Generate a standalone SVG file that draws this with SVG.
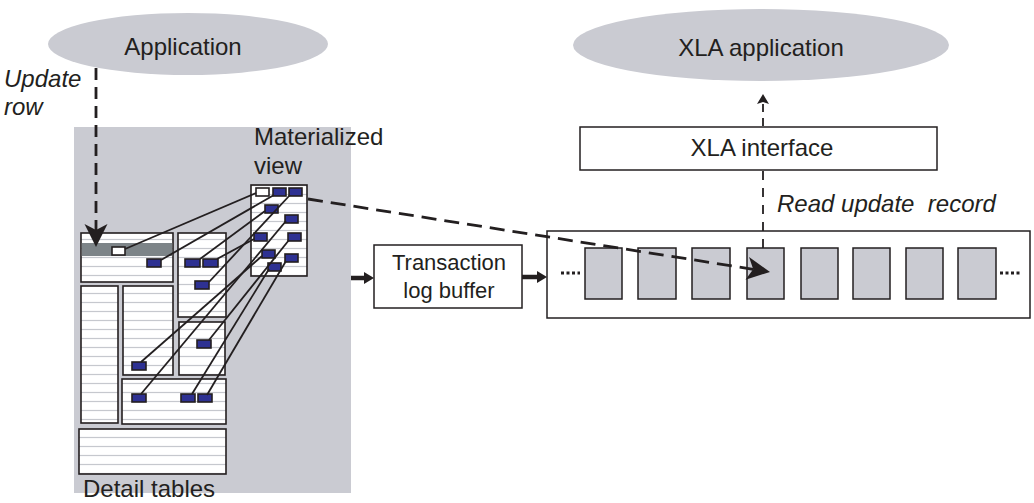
<svg xmlns="http://www.w3.org/2000/svg" width="1034" height="503" viewBox="0 0 1034 503">
<style>
text{font-family:"Liberation Sans",Arial,sans-serif;fill:#231f20}
.t24{font-size:24px}
.t22{font-size:22px}
.it{font-style:italic}
.gray{fill:#cacbd2}
.tbl{fill:url(#rows);stroke:#231f20;stroke-width:1.6}
.blue{fill:#2e3192;stroke:#231f20;stroke-width:1.6}
.wht{fill:#ffffff;stroke:#231f20;stroke-width:1.6}
.box{fill:#ffffff;stroke:#231f20;stroke-width:1.5}
.rec{fill:#cacbd2;stroke:#231f20;stroke-width:1.5}
.link{stroke:#231f20;stroke-width:1.8;fill:none}
.dash{stroke:#231f20;stroke-width:2.8;fill:none;stroke-dasharray:12 7}
.dashs{stroke:#231f20;stroke-width:1.8;fill:none;stroke-dasharray:9 8}
.thick{stroke:#231f20;stroke-width:4.5;fill:none}
.dots{stroke:#231f20;stroke-width:3;stroke-dasharray:3 2.5;fill:none}
</style>
<defs>
<pattern id="rows" patternUnits="userSpaceOnUse" x="0" y="1" width="10" height="9">
<rect width="10" height="9" fill="#ffffff"/>
<line x1="0" y1="4.5" x2="10" y2="4.5" stroke="#c6c8ce" stroke-width="1.2"/>
</pattern>
<marker id="stealth" markerUnits="userSpaceOnUse" markerWidth="24" markerHeight="24" refX="6" refY="11.5" orient="auto">
<path d="M0,0 L23,11.5 L0,23 L6,11.5 z" fill="#231f20"/>
</marker>
<marker id="small" markerUnits="userSpaceOnUse" markerWidth="14" markerHeight="14" refX="2" refY="6" orient="auto">
<path d="M0,0 L10,6 L0,12 L2,6 z" fill="#231f20"/>
</marker>
<marker id="head" markerUnits="userSpaceOnUse" markerWidth="14" markerHeight="14" refX="2" refY="6" orient="auto">
<path d="M0,0 L10,6 L0,12 z" fill="#231f20"/>
</marker>
</defs>

<g id="application">
<ellipse class="gray" cx="188" cy="44" rx="140" ry="31"/>
<text class="t24" x="183" y="55" text-anchor="middle">Application</text>
</g>

<g id="update-row-label">
<text class="t24 it" x="4" y="87">Update</text>
<text class="t24 it" x="4" y="115">row</text>
</g>

<g id="detail-tables">
<rect class="gray" x="74" y="127" width="277" height="366"/>
<rect class="tbl" x="81" y="233" width="92" height="49"/>
<rect x="81.8" y="243" width="90.4" height="13" fill="#7d8488"/>
<rect class="tbl" x="178" y="233" width="48" height="84"/>
<rect class="tbl" x="81" y="286" width="37" height="137"/>
<rect class="tbl" x="123" y="286" width="50" height="89"/>
<rect class="tbl" x="179" y="322" width="46" height="53"/>
<rect class="tbl" x="122" y="379" width="104" height="45"/>
<rect class="tbl" x="79" y="429" width="147" height="45"/>
<rect class="wht" x="112" y="247" width="13" height="8"/>
<rect class="blue" x="147" y="259" width="14" height="8"/>
<rect class="blue" x="185" y="259" width="15" height="8"/>
<rect class="blue" x="203" y="259" width="15" height="8"/>
<rect class="blue" x="195" y="281" width="14" height="8"/>
<rect class="blue" x="132" y="362" width="14" height="8"/>
<rect class="blue" x="197" y="340" width="14" height="8"/>
<rect class="blue" x="132" y="394" width="14" height="8"/>
<rect class="blue" x="181" y="394" width="14" height="8"/>
<rect class="blue" x="198" y="394" width="14" height="8"/>
<text class="t24" x="83" y="497">Detail tables</text>
</g>

<g id="materialized-view">
<text class="t24" x="254" y="145">Materialized</text>
<text class="t24" x="254" y="174">view</text>
<rect class="tbl" x="251" y="185" width="56" height="91"/>
<rect class="wht" x="256" y="188" width="13" height="8"/>
<rect class="blue" x="273" y="188" width="13" height="8"/>
<rect class="blue" x="289" y="188" width="13" height="8"/>
<rect class="blue" x="265" y="205" width="13" height="8"/>
<rect class="blue" x="285" y="215" width="13" height="8"/>
<rect class="blue" x="254" y="233" width="13" height="8"/>
<rect class="blue" x="288" y="233" width="13" height="8"/>
<rect class="blue" x="262" y="250" width="13" height="8"/>
<rect class="blue" x="285" y="254" width="13" height="8"/>
<rect class="blue" x="268" y="263" width="13" height="8"/>
</g>

<g id="transaction-log-buffer">
<rect class="box" x="374" y="245" width="148" height="63"/>
<text class="t22" x="449" y="270" text-anchor="middle">Transaction</text>
<text class="t22" x="449" y="298" text-anchor="middle">log buffer</text>
</g>

<g id="log-records">
<rect class="box" x="547" y="231" width="483" height="87"/>
<line class="dots" x1="561" y1="273" x2="580" y2="273"/>
<rect class="rec" x="585" y="248" width="37" height="51"/>
<rect class="rec" x="638" y="248" width="38" height="51"/>
<rect class="rec" x="692" y="248" width="38" height="51"/>
<rect class="rec" x="747" y="248" width="37" height="51"/>
<rect class="rec" x="801" y="248" width="37" height="51"/>
<rect class="rec" x="853" y="248" width="37" height="51"/>
<rect class="rec" x="906" y="248" width="37" height="51"/>
<rect class="rec" x="958" y="248" width="38" height="51"/>
<line class="dots" x1="1000" y1="273" x2="1020" y2="273"/>
</g>

<g id="xla-interface">
<rect class="box" x="580" y="127" width="357" height="43"/>
<text class="t24" x="762" y="156" text-anchor="middle">XLA interface</text>
</g>

<g id="xla-application">
<ellipse class="gray" cx="761" cy="45" rx="188" ry="36"/>
<text class="t24" x="761" y="56" text-anchor="middle">XLA application</text>
</g>

<g id="read-label">
<text class="t24 it" x="777" y="212" style="white-space:pre" xml:space="preserve">Read update  record</text>
</g>

<g id="connectors">
<line class="link" x1="125" y1="249" x2="256" y2="193"/>
<line class="link" x1="161" y1="260" x2="274" y2="195"/>
<line class="link" x1="200" y1="259" x2="265" y2="211"/>
<line class="link" x1="217" y1="259" x2="254" y2="239"/>
<line class="link" x1="209" y1="282" x2="290" y2="195"/>
<line class="link" x1="141" y1="362" x2="262" y2="256"/>
<line class="link" x1="141" y1="394" x2="286" y2="221"/>
<line class="link" x1="209" y1="340" x2="289" y2="240"/>
<line class="link" x1="192" y1="394" x2="269" y2="269"/>
<line class="link" x1="207" y1="395" x2="286" y2="261"/>
<line class="dash" x1="96" y1="68" x2="96" y2="230" marker-end="url(#stealth)"/>
<line class="dash" x1="308" y1="199" x2="753.2" y2="269.3" marker-end="url(#stealth)" style="stroke-dasharray:15 8"/>
<line class="thick" x1="351" y1="278" x2="366" y2="278" marker-end="url(#head)"/>
<line class="thick" x1="522" y1="277" x2="539" y2="277" marker-end="url(#head)"/>
<line class="dashs" x1="763" y1="248" x2="763" y2="171"/>
<line class="dashs" x1="763" y1="126" x2="763" y2="102" marker-end="url(#small)" style="stroke-dasharray:8 6"/>
</g>
</svg>
